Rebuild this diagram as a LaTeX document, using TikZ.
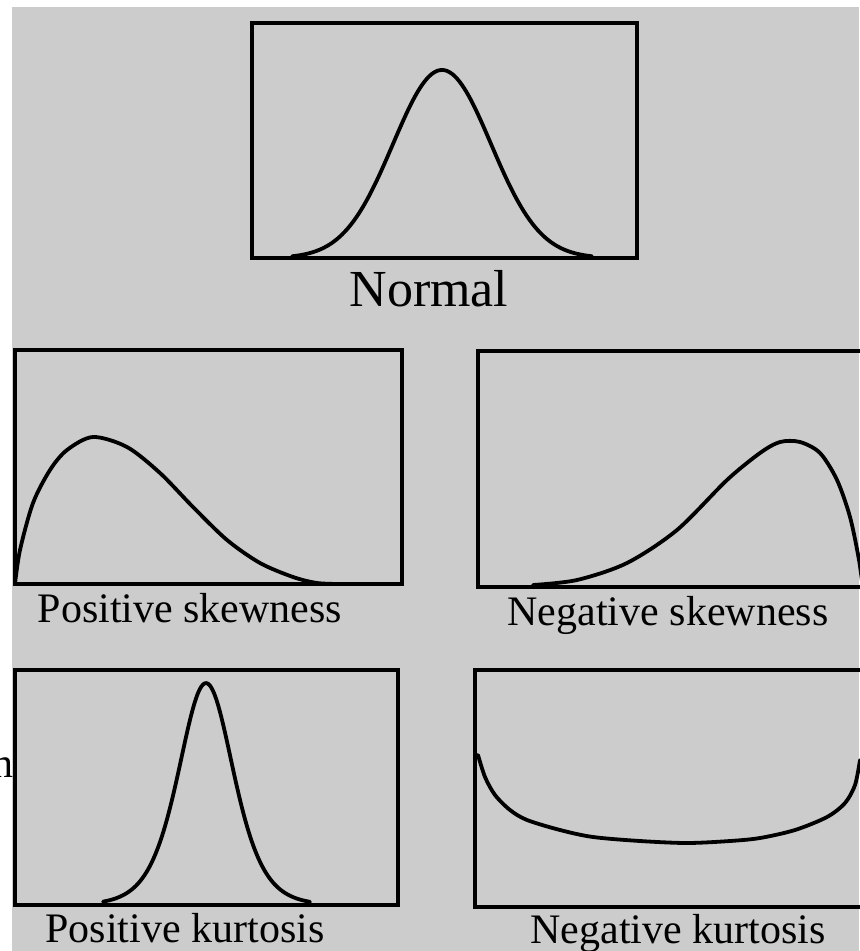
\documentclass[tikz,border=0pt]{standalone}
\usepackage{fontspec}
\setmainfont{Liberation Serif}
\definecolor{bggray}{HTML}{CCCCCC}
\begin{document}
\begin{tikzpicture}[x=0.5pt,y=-0.5pt,
  frame/.style={line width=2.1pt, line join=miter},
  curve/.style={line width=1.9pt, line cap=round, line join=round},
  bigcap/.style={font=\fontsize{26}{30}\selectfont, inner sep=0pt, anchor=base},
  smallcap/.style={font=\fontsize{21}{25}\selectfont, inner sep=0pt, anchor=base}]
\useasboundingbox (0,0) rectangle (859,951);
\fill[white] (0,0) rectangle (859,951);
\fill[bggray] (12,7) rectangle (859,951);

% Normal
\draw[frame] (252,23) rectangle (637,258);
\draw[curve] plot[domain=292:592, samples=121, smooth] (\x, {258-188*exp(-0.5*((\x-442)/49)^2)});
\node[bigcap] (tnormal) at (429,307) {Normal};

% Positive skewness
\draw[frame] (15,350) rectangle (402,584);
\draw[curve] plot[smooth] coordinates {(15,584) (20,550) (33,503) (50,470) (67,450) (93,437) (127,447) (160,473) (193,507) (227,540) (260,563) (293,577) (317,583) (340,584)};
\node[smallcap] (tposskew) at (190,622) {Positive skewness};

% Negative skewness
\draw[frame] (478,351) rectangle (864,587);
\draw[curve] plot[smooth] coordinates {(533,585) (577,580) (627,563) (677,530) (727,480) (760,453) (780,442) (800,442) (820,453) (837,480) (850,517) (859,560) (863,590)};
\node[smallcap] (tnegskew) at (668,625) {Negative skewness};

% Positive kurtosis
\draw[frame] (15,670) rectangle (398,905);
\draw[curve] plot[domain=103:310, samples=121, smooth] (\x, {905-222/(cosh((\x-206)/37))^2});
\node[smallcap] (tposkurt) at (185,942) {Positive kurtosis};

% Negative kurtosis
\draw[frame] (475,670) rectangle (864,907);
\draw[curve] plot[smooth] coordinates {(478,755) (485,777) (495,795) (510,810) (527,820) (560,830) (593,837) (640,841) (687,843) (730,841) (760,838) (795,830) (827,817) (845,803) (855,785) (860,760)};
\node[smallcap] (tnegkurt) at (678,943) {Negative kurtosis};

% stray letter at left edge
\node[smallcap, anchor=base east] (stray) at (14,777) {n};
\end{tikzpicture}
\end{document}
